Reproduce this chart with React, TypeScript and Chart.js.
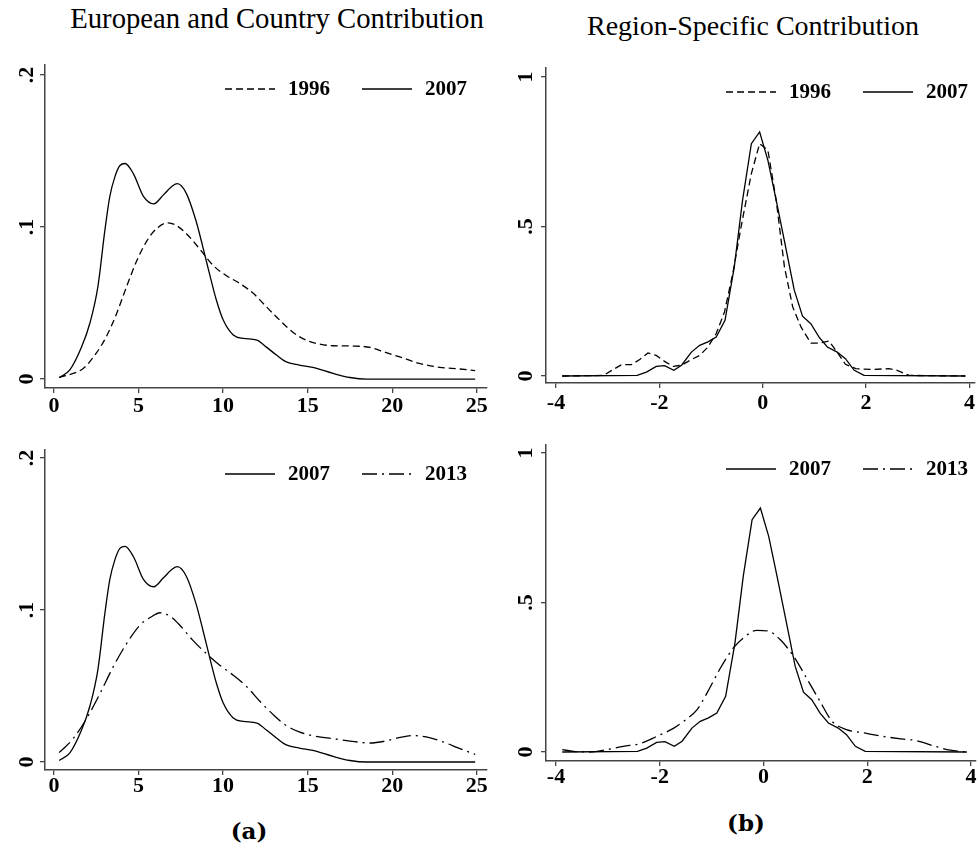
import React, { useEffect, useRef } from "react";
import { Chart, registerables } from "chart.js";
Chart.register(...registerables);

// ---------- data ----------
const titleLeft = "European and Country Contribution";
const titleRight = "Region-Specific Contribution";

const leftXTicks = [0, 5, 10, 15, 20, 25];
const leftYTicks = [0, 0.1, 0.2];
const leftYLabels = ["0", ".1", ".2"];
const rightXTicks = [-4, -2, 0, 2, 4];
const rightYTicks = [0, 0.5, 1];
const rightYLabels = ["0", ".5", "1"];

// European and Country contribution, 2007
const euroX2007 = [0.31, 0.94, 1.63, 2.13, 2.6, 3.0, 3.3, 3.6, 3.9, 4.2, 4.7, 5.3, 5.9, 6.46, 7.0, 7.3, 7.83, 8.4, 8.8, 9.2, 9.6, 10.0, 10.6, 11.2, 12.0, 12.56, 13.15, 13.7, 14.5, 15.3, 16.5, 17.5, 18.5, 21.5, 24.9];
const euro2007 = [0.001, 0.006, 0.021, 0.037, 0.061, 0.097, 0.12, 0.133, 0.1405, 0.1418, 0.135, 0.12, 0.1153, 0.121, 0.127, 0.1285, 0.122, 0.104, 0.087, 0.069, 0.052, 0.039, 0.029, 0.0267, 0.0256, 0.021, 0.0158, 0.0114, 0.0092, 0.0077, 0.0037, 0.001, 0, 0, 0];

// European and Country contribution, 1996
const euroX1996 = [0.3, 1.73, 2.5, 3.1, 3.7, 4.3, 4.9, 5.5, 6.06, 6.75, 7.24, 7.83, 8.6, 9.4, 10.2, 11.0, 11.8, 12.56, 13.35, 14.1, 14.9, 15.7, 16.5, 17.7, 18.7, 19.6, 20.4, 21.6, 22.8, 24.0, 24.9];
const euro1996 = [0.001, 0.007, 0.017, 0.028, 0.043, 0.061, 0.078, 0.091, 0.0989, 0.1028, 0.101, 0.0956, 0.0858, 0.0748, 0.068, 0.0628, 0.0562, 0.0475, 0.0387, 0.031, 0.0256, 0.023, 0.0219, 0.0217, 0.0208, 0.0175, 0.0147, 0.0103, 0.0077, 0.0066, 0.0055];

// European and Country contribution, 2013
const euroX2013 = [0.31, 1.14, 1.93, 2.72, 3.5, 4.3, 5.08, 5.77, 6.26, 6.85, 7.44, 8.2, 9.0, 9.8, 10.6, 11.4, 12.2, 13.0, 13.7, 14.5, 15.5, 16.5, 17.5, 18.7, 19.6, 20.4, 21.2, 22.0, 23.0, 24.0, 24.9];
const euro2013 = [0.0062, 0.0154, 0.0286, 0.045, 0.0626, 0.078, 0.09, 0.0956, 0.0982, 0.096, 0.09, 0.0802, 0.0714, 0.0637, 0.0571, 0.0495, 0.0396, 0.0308, 0.0242, 0.0198, 0.0169, 0.0154, 0.0138, 0.0125, 0.0138, 0.016, 0.0174, 0.0165, 0.0132, 0.0088, 0.005];

// Region-specific contribution, 2007
const regionX2007 = [-3.88, -2.43, -2.25, -2.06, -1.9, -1.72, -1.57, -1.38, -1.22, -1.06, -0.9, -0.73, -0.55, -0.39, -0.22, -0.06, 0.1, 0.26, 0.43, 0.61, 0.77, 0.93, 1.09, 1.25, 1.44, 1.6, 1.77, 1.96, 3.92];
const region2007 = [0, 0.002, 0.013, 0.032, 0.0346, 0.019, 0.036, 0.08, 0.1026, 0.114, 0.13, 0.186, 0.365, 0.588, 0.777, 0.816, 0.721, 0.588, 0.443, 0.287, 0.2, 0.175, 0.13, 0.097, 0.08, 0.058, 0.019, 0.002, 0];

// Region-specific contribution, 1996
const regionX1996 = [-3.88, -3.08, -2.92, -2.73, -2.54, -2.38, -2.22, -2.06, -1.9, -1.73, -1.57, -1.41, -1.22, -1.06, -0.9, -0.74, -0.58, -0.42, -0.22, -0.06, 0.1, 0.26, 0.42, 0.58, 0.74, 0.93, 1.09, 1.28, 1.44, 1.6, 1.8, 2.12, 2.44, 2.6, 2.83, 3.92];
const region1996 = [0, 0.002, 0.019, 0.038, 0.038, 0.055, 0.077, 0.069, 0.049, 0.032, 0.036, 0.052, 0.069, 0.097, 0.142, 0.214, 0.342, 0.498, 0.677, 0.777, 0.755, 0.588, 0.365, 0.231, 0.164, 0.11, 0.11, 0.117, 0.08, 0.039, 0.0245, 0.022, 0.0245, 0.019, 0.002, 0];

// Region-specific contribution, 2013
const regionX2013 = [-3.88, -3.66, -3.34, -3.02, -2.7, -2.38, -2.06, -1.73, -1.54, -1.28, -1.09, -0.83, -0.58, -0.39, -0.13, 0.1, 0.32, 0.58, 0.83, 1.09, 1.32, 1.6, 1.93, 2.31, 2.7, 2.95, 3.27, 3.6, 3.92];
const region2013 = [0.008, 0.002, 0, 0.008, 0.019, 0.028, 0.052, 0.08, 0.103, 0.142, 0.197, 0.281, 0.348, 0.381, 0.407, 0.404, 0.376, 0.32, 0.247, 0.169, 0.103, 0.075, 0.064, 0.052, 0.043, 0.038, 0.021, 0.006, 0];

const DASH_1996 = [7, 4];
const DASH_2013 = [15, 5, 2, 5];
const AXIS_COLOR = "#444";
const TICK_FONT = "Liberation Serif";

type Series = { label: string; xs: number[]; ys: number[]; dash: number[]; smooth: boolean };
type Panel = {
  left: number; top: number; width: number; height: number;
  padTop: number; padRight: number; yWidth: number; xHeight: number; xPad: number;
  xMin: number; xMax: number; yMin: number; yMax: number;
  xTicks: number[]; yTicks: number[]; yLabels: string[]; yLabelGap: number;
  series: Series[];
};

const panels: Panel[] = [
  {
    left: 0, top: 40, width: 490, height: 390,
    padTop: 25, padRight: 3, yWidth: 45, xHeight: 42, xPad: 0,
    xMin: -0.53, xMax: 25.6, yMin: -0.0059, yMax: 0.2066,
    xTicks: leftXTicks, yTicks: leftYTicks, yLabels: leftYLabels, yLabelGap: 12,
    series: [
      { label: "1996", xs: euroX1996, ys: euro1996, dash: DASH_1996, smooth: true },
      { label: "2007", xs: euroX2007, ys: euro2007, dash: [], smooth: true },
    ],
  },
  {
    left: 490, top: 40, width: 487, height: 390,
    padTop: 28, padRight: 1, yWidth: 56, xHeight: 47, xPad: 2,
    xMin: -4.193, xMax: 4.096, yMin: -0.0234, yMax: 1.03,
    xTicks: rightXTicks, yTicks: rightYTicks, yLabels: rightYLabels, yLabelGap: 14,
    series: [
      { label: "1996", xs: regionX1996, ys: region1996, dash: DASH_1996, smooth: false },
      { label: "2007", xs: regionX2007, ys: region2007, dash: [], smooth: false },
    ],
  },
  {
    left: 0, top: 430, width: 490, height: 380,
    padTop: 20, padRight: 3, yWidth: 45, xHeight: 40, xPad: -2,
    xMin: -0.53, xMax: 25.6, yMin: -0.00526, yMax: 0.20526,
    xTicks: leftXTicks, yTicks: leftYTicks, yLabels: leftYLabels, yLabelGap: 12,
    series: [
      { label: "2007", xs: euroX2007, ys: euro2007, dash: [], smooth: true },
      { label: "2013", xs: euroX2013, ys: euro2013, dash: DASH_2013, smooth: true },
    ],
  },
  {
    left: 490, top: 420, width: 487, height: 380,
    padTop: 25, padRight: 1, yWidth: 56, xHeight: 39, xPad: -2,
    xMin: -4.193, xMax: 4.096, yMin: -0.0301, yMax: 1.0268,
    xTicks: rightXTicks, yTicks: rightYTicks, yLabels: rightYLabels, yLabelGap: 14,
    series: [
      { label: "2007", xs: regionX2007, ys: region2007, dash: [], smooth: false },
      { label: "2013", xs: regionX2013, ys: region2013, dash: DASH_2013, smooth: true },
    ],
  },
];

function makeDecor(p: Panel) {
  return {
    id: "decor",
    afterDraw(chart: any) {
      const ctx = chart.ctx;
      const area = chart.chartArea;
      const ys = chart.scales.y;
      ctx.save();
      ctx.fillStyle = "#000";
      ctx.font = `bold 22px "${TICK_FONT}"`;
      ctx.textAlign = "center";
      ctx.textBaseline = "alphabetic";
      p.yTicks.forEach((v, i) => {
        const py = ys.getPixelForValue(v);
        ctx.save();
        ctx.translate(area.left - p.yLabelGap, py);
        ctx.rotate(-Math.PI / 2);
        ctx.fillText(p.yLabels[i], 0, 0);
        ctx.restore();
      });
      // legend
      ctx.font = `bold 21px "${TICK_FONT}"`;
      ctx.textAlign = "left";
      ctx.textBaseline = "middle";
      const ly = area.top + 24;
      chart.data.datasets.forEach((ds: any, i: number) => {
        const x0 = area.left + 180 + i * 137;
        ctx.save();
        ctx.strokeStyle = "#000";
        ctx.lineWidth = ds.borderWidth;
        ctx.setLineDash(ds.borderDash || []);
        ctx.beginPath();
        ctx.moveTo(x0, ly);
        ctx.lineTo(x0 + 50, ly);
        ctx.stroke();
        ctx.restore();
        ctx.fillText(ds.label, x0 + 63, ly + 1);
      });
      ctx.restore();
    },
  };
}

function axisCommon() {
  return {
    grid: { display: true, drawOnChartArea: false, drawTicks: true, tickLength: 5, color: AXIS_COLOR, lineWidth: 1.3 },
    border: { display: true, color: AXIS_COLOR, width: 1.5 },
  };
}

function PanelChart({ p }: { p: Panel }) {
  const ref = useRef<HTMLCanvasElement | null>(null);
  useEffect(() => {
    if (!ref.current) return;
    const chart = new Chart(ref.current, {
      type: "line",
      data: {
        datasets: p.series.map((s) => ({
          label: s.label,
          data: s.xs.map((x, i) => ({ x, y: s.ys[i] })),
          borderColor: "#000",
          borderWidth: 1.3,
          borderDash: s.dash,
          pointRadius: 0,
          fill: false,
          tension: s.smooth ? 0.4 : 0,
          cubicInterpolationMode: s.smooth ? "monotone" : "default",
        })),
      },
      options: {
        responsive: false,
        animation: false,
        events: [],
        layout: { padding: { top: p.padTop, right: p.padRight, left: 0, bottom: 0 } },
        plugins: { legend: { display: false }, tooltip: { enabled: false }, title: { display: false } },
        scales: {
          x: {
            type: "linear",
            min: p.xMin,
            max: p.xMax,
            afterBuildTicks: (s: any) => { s.ticks = p.xTicks.map((v) => ({ value: v })); },
            afterFit: (s: any) => { s.height = p.xHeight; },
            ...axisCommon(),
            ticks: {
              color: "#000",
              font: { family: TICK_FONT, size: 22, weight: "bold" },
              padding: p.xPad,
              maxRotation: 0,
              minRotation: 0,
              autoSkip: false,
              callback: (v: any) => String(v),
            },
          },
          y: {
            type: "linear",
            min: p.yMin,
            max: p.yMax,
            afterBuildTicks: (s: any) => { s.ticks = p.yTicks.map((v) => ({ value: v })); },
            afterFit: (s: any) => { s.width = p.yWidth; },
            ...axisCommon(),
            ticks: { display: false },
          },
        },
      } as any,
      plugins: [makeDecor(p)],
    });
    return () => chart.destroy();
  }, [p]);
  return (
    <canvas
      ref={ref}
      width={p.width}
      height={p.height}
      style={{ position: "absolute", left: p.left, top: p.top, width: p.width, height: p.height }}
    />
  );
}

export default function App() {
  const titleStyle: React.CSSProperties = {
    position: "absolute",
    fontFamily: "'Liberation Serif', serif",
    fontSize: 28.7,
    lineHeight: "28px",
    whiteSpace: "nowrap",
    textAlign: "center",
    color: "#000",
  };
  const capStyle: React.CSSProperties = {
    position: "absolute",
    fontFamily: "'DejaVu Serif', serif",
    fontWeight: "bold",
    fontSize: 23,
    lineHeight: "23px",
    whiteSpace: "nowrap",
    textAlign: "center",
    color: "#000",
  };
  return (
    <div style={{ position: "absolute", left: 0, top: 0, width: 977, height: 851, background: "#fff", overflow: "hidden" }}>
      <div style={{ ...titleStyle, left: 27, width: 500, top: 4 }}>{titleLeft}</div>
      <div style={{ ...titleStyle, fontSize: 28, left: 503, width: 500, top: 12 }}>{titleRight}</div>
      {panels.map((p, i) => (
        <PanelChart key={i} p={p} />
      ))}
      <div style={{ ...capStyle, left: 199, width: 100, top: 819 }}>(a)</div>
      <div style={{ ...capStyle, left: 696, width: 100, top: 811 }}>(b)</div>
    </div>
  );
}
